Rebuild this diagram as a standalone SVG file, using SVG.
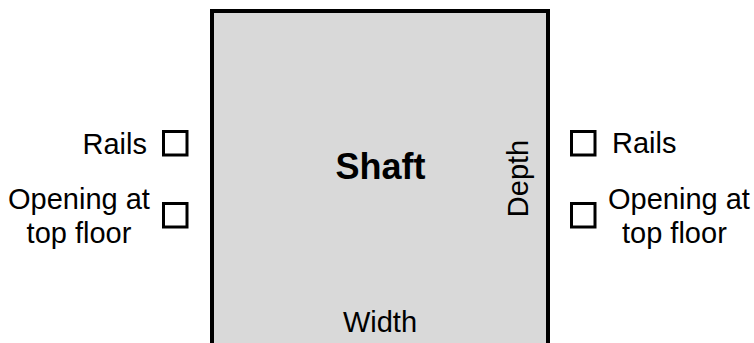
<svg xmlns="http://www.w3.org/2000/svg" width="754" height="343" viewBox="0 0 754 343">
<style>
text { font-family: "Liberation Sans", Arial, sans-serif; font-size: 29px; fill: #000; }
.title { font-weight: bold; font-size: 36px; }
.box { fill: #fff; stroke: #000; stroke-width: 3; }
</style>
<rect width="754" height="343" fill="#fff"/>
<g id="shaft">
<rect x="212" y="11" width="336" height="345" fill="#d9d9d9" stroke="#000" stroke-width="4"/>
<text class="title" x="380.5" y="179" text-anchor="middle">Shaft</text>
<text x="380" y="332" text-anchor="middle">Width</text>
<text transform="translate(528,178.5) rotate(-90)" text-anchor="middle">Depth</text>
</g>
<g id="rails-left">
<rect class="box" x="163.5" y="131.5" width="23.5" height="23.5"/>
<text x="147" y="154" text-anchor="end">Rails</text>
</g>
<g id="opening-left">
<rect class="box" x="163.5" y="203.5" width="23.5" height="23.5"/>
<text x="79" y="209" text-anchor="middle">Opening at</text>
<text x="79" y="243" text-anchor="middle">top floor</text>
</g>
<g id="rails-right">
<rect class="box" x="571.5" y="131.5" width="23.5" height="23.5"/>
<text x="612" y="153">Rails</text>
</g>
<g id="opening-right">
<rect class="box" x="571.5" y="203.5" width="23.5" height="23.5"/>
<text x="608" y="209">Opening at</text>
<text x="622" y="243">top floor</text>
</g>
<g id="connectors"></g>
</svg>
